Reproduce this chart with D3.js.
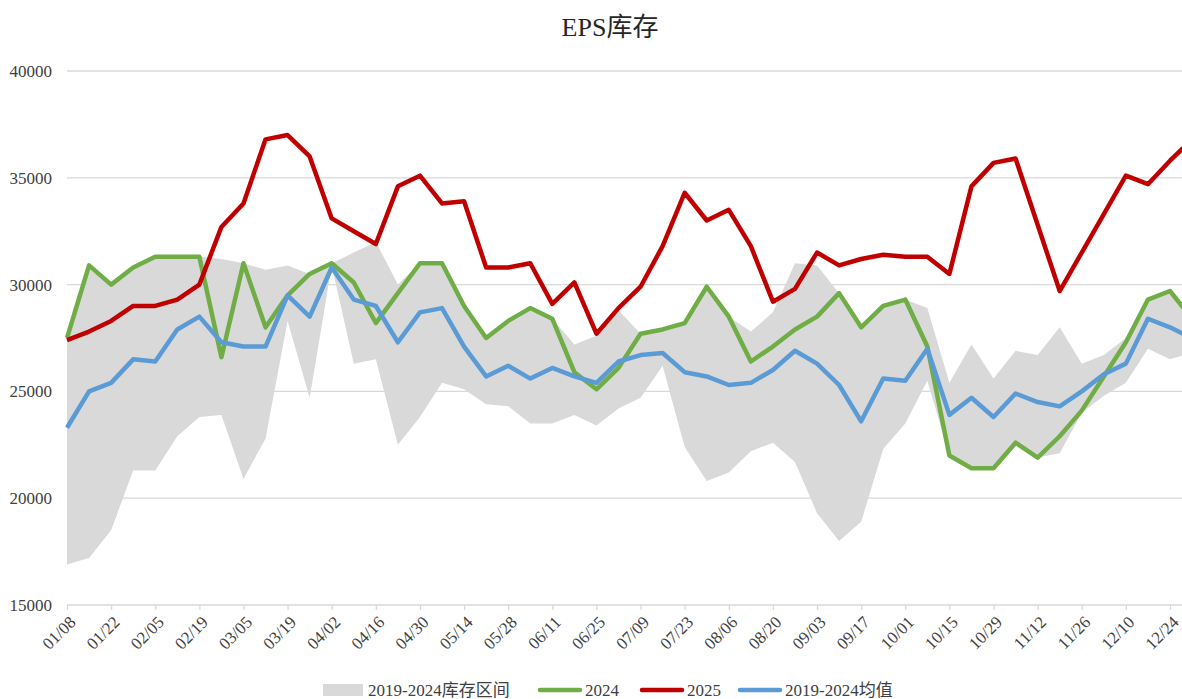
<!DOCTYPE html>
<html>
<head>
<meta charset="utf-8">
<script src="https://cdn.jsdelivr.net/npm/d3@7"></script>
<style>
  body { margin: 0; background: #fff; }
  svg { display: block; font-family: "Liberation Serif", "Noto Sans CJK SC", serif; }
</style>
</head>
<body>
<div class="chart"></div>
<script>
// weekly categories
const weeks = ['01/08','01/15','01/22','01/29','02/05','02/12','02/19','02/26','03/05','03/12',
    '03/19','03/26','04/02','04/09','04/16','04/23','04/30','05/07','05/14','05/21',
    '05/28','06/04','06/11','06/18','06/25','07/02','07/09','07/16','07/23','07/30',
    '08/06','08/13','08/20','08/27','09/03','09/10','09/17','09/24','10/01','10/08',
    '10/15','10/22','10/29','11/05','11/12','11/19','11/26','12/03','12/10','12/17',
    '12/24','12/31']

const rangeHigh = [27500, 30900, 30000, 30800, 31300, 31300, 31300, 31200, 31000, 30700,
    30900, 30500, 31000, 31500, 32000, 30000, 31000, 31000, 29000, 27500,
    28300, 28900, 28400, 27200, 27600, 28800, 27700, 27900, 28200, 29900,
    28500, 27800, 28700, 31000, 30900, 29600, 28100, 29000, 29300, 28900,
    25400, 27200, 25600, 26900, 26700, 28000, 26300, 26700, 27500, 29300,
    29700, 28400]

const rangeLow = [16900, 17200, 18500, 21300, 21300, 22900, 23800, 23900, 20900, 22800,
    28300, 24700, 30900, 26300, 26500, 22500, 23800, 25400, 25100, 24400,
    24300, 23500, 23500, 23900, 23400, 24200, 24700, 26200, 22400, 20800,
    21200, 22200, 22600, 21700, 19300, 18000, 18900, 22300, 23500, 25500,
    22000, 21400, 21400, 22600, 21900, 22100, 24000, 24800, 25400, 27000,
    26500, 26800]

const y2024 = [27500, 30900, 30000, 30800, 31300, 31300, 31300, 26600, 31000, 28000,
    29500, 30500, 31000, 30100, 28200, 29600, 31000, 31000, 29000, 27500,
    28300, 28900, 28400, 25900, 25100, 26100, 27700, 27900, 28200, 29900,
    28500, 26400, 27100, 27900, 28500, 29600, 28000, 29000, 29300, 27100,
    22000, 21400, 21400, 22600, 21900, 22900, 24100, 25700, 27300, 29300,
    29700, 28400]

const y2025 = [27400, 27800, 28300, 29000, 29000, 29300, 30000, 32700, 33800, 36800,
    37000, 36000, 33100, 32500, 31900, 34600, 35100, 33800, 33900, 30800,
    30800, 31000, 29100, 30100, 27700, 28900, 29900, 31800, 34300, 33000,
    33500, 31800, 29200, 29800, 31500, 30900, 31200, 31400, 31300, 31300,
    30500, 34600, 35700, 35900, 32800, 29700, 31500, 33300, 35100, 34700,
    35800, 36800]

const avg = [23300, 25000, 25400, 26500, 26400, 27900, 28500, 27300, 27100, 27100,
    29500, 28500, 30800, 29300, 29000, 27300, 28700, 28900, 27100, 25700,
    26200, 25600, 26100, 25700, 25400, 26400, 26700, 26800, 25900, 25700,
    25300, 25400, 26000, 26900, 26300, 25300, 23600, 25600, 25500, 27000,
    23900, 24700, 23800, 24900, 24500, 24300, 25000, 25800, 26300, 28400,
    28000, 27500]

const yTicks = [15000, 20000, 25000, 30000, 35000, 40000]

const legendItems = [
    { name: '2019-2024库存区间', color: '#d9d9d9', type: 'rect' },
    { name: '2024', color: '#70ad47', type: 'line' },
    { name: '2025', color: '#c00000', type: 'line' },
    { name: '2019-2024均值', color: '#5b9bd5', type: 'line' }
]

function drawChart() {
    const width = 1182
    const height = 699
    const margin = { top: 71, left: 67, bottom: 94 }

    const svg = d3.select('.chart')
        .append('svg')
        .attr('width', width)
        .attr('height', height)

    const x = d3.scalePoint()
        .domain(weeks)
        .range([margin.left, margin.left + 51 * 22.06])

    const y = d3.scaleLinear()
        .domain([15000, 40000])
        .range([height - margin.bottom, margin.top])

    // gridlines
    svg.append('g')
        .selectAll('line')
        .data(yTicks.slice(1))
        .join('line')
        .attr('x1', margin.left)
        .attr('x2', width)
        .attr('y1', d => y(d))
        .attr('y2', d => y(d))
        .attr('stroke', '#d9d9d9')
        .attr('stroke-width', 1.3)

    // y labels
    svg.append('g')
        .selectAll('text')
        .data(yTicks)
        .join('text')
        .attr('x', 52)
        .attr('y', d => y(d))
        .attr('dy', '0.35em')
        .attr('text-anchor', 'end')
        .attr('font-size', 17)
        .attr('fill', '#404040')
        .text(d => d)

    // band of 2019-2024
    const area = d3.area()
        .x((d, i) => x(weeks[i]))
        .y0((d, i) => y(rangeLow[i]))
        .y1((d, i) => y(rangeHigh[i]))

    svg.append('path')
        .datum(rangeHigh)
        .attr('d', area)
        .attr('fill', '#d9d9d9')

    // x axis
    const xAxis = d3.axisBottom(x)
        .tickValues(weeks.filter((d, i) => i % 2 === 0))
        .tickSize(5)
        .tickSizeOuter(0)

    const gx = svg.append('g')
        .attr('transform', `translate(0, ${y(15000)})`)
        .call(xAxis)
    gx.select('.domain').attr('stroke', '#d9d9d9').attr('stroke-width', 1.5)
        .attr('d', `M${margin.left},0H${width}`)
    gx.selectAll('.tick line').attr('stroke', '#d9d9d9').attr('stroke-width', 1.3)
    gx.selectAll('.tick text')
        .attr('font-family', '"Liberation Serif", serif')
        .attr('font-size', 17)
        .attr('fill', '#404040')
        .attr('text-anchor', 'end')
        .attr('y', 0)
        .attr('dy', '0.35em')
        .attr('transform', 'translate(5, 14) rotate(-45)')

    // lines
    const line = d3.line()
        .x((d, i) => x(weeks[i]))
        .y(d => y(d))

    const seriesList = [
        { values: y2024, color: '#70ad47' },
        { values: y2025, color: '#c00000' },
        { values: avg, color: '#5b9bd5' }
    ]

    svg.append('g')
        .selectAll('path')
        .data(seriesList)
        .join('path')
        .attr('d', d => line(d.values))
        .attr('fill', 'none')
        .attr('stroke', d => d.color)
        .attr('stroke-width', 4.5)
        .attr('stroke-linejoin', 'round')

    // title
    svg.append('text')
        .attr('x', 610)
        .attr('y', 36)
        .attr('text-anchor', 'middle')
        .attr('font-size', 26)
        .attr('fill', '#262626')
        .text('EPS库存')

    // legend
    const legendX = [323, 540, 642, 740]
    const legend = svg.append('g')
        .selectAll('g')
        .data(legendItems)
        .join('g')
        .attr('transform', (d, i) => `translate(${legendX[i]}, 690)`)

    legend.filter(d => d.type === 'rect')
        .append('rect')
        .attr('x', 0)
        .attr('y', -6)
        .attr('width', 40)
        .attr('height', 12)
        .attr('fill', d => d.color)

    legend.filter(d => d.type === 'line')
        .append('line')
        .attr('x1', 0)
        .attr('x2', 40)
        .attr('stroke', d => d.color)
        .attr('stroke-width', 4.5)
        .attr('stroke-linecap', 'round')

    legend.append('text')
        .attr('x', 45)
        .attr('dy', '0.35em')
        .attr('font-size', 17)
        .attr('fill', '#404040')
        .text(d => d.name)
}

drawChart()
</script>
</body>
</html>
